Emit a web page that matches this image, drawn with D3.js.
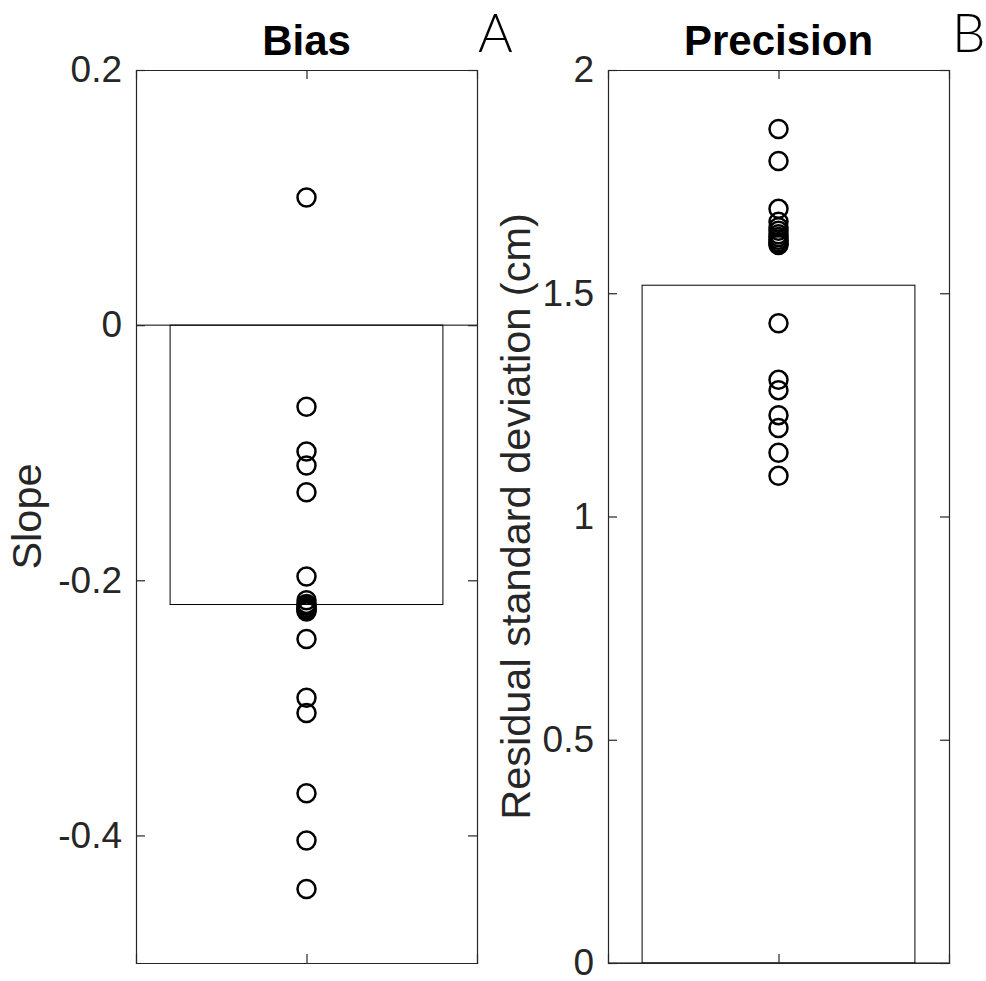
<!DOCTYPE html>
<html>
<head>
<meta charset="utf-8">
<script src="https://cdn.jsdelivr.net/npm/d3@7"></script>
<style>
  html, body { margin: 0; padding: 0; background: #fff; }
  svg { display: block; }
  text { font-family: "Liberation Sans", Arial, Helvetica, sans-serif; }
</style>
</head>
<body>
<svg id="chart" width="986" height="981"></svg>
<script>
// Panel A: regression slope per subject (bias)
const biasMean = -0.219;
const biasSlopes = [0.10, -0.064, -0.099, -0.110, -0.131, -0.197,
  -0.2156, -0.2185, -0.2200, -0.2215, -0.2225, -0.2235, -0.2245,
  -0.246, -0.292, -0.304, -0.367, -0.404, -0.442];
const biasTicks = [-0.4, -0.2, 0, 0.2];
const biasDomain = [-0.5, 0.2];

// Panel B: residual standard deviation per subject (precision, cm)
const precisionMean = 1.518;
const precisionSD = [1.868, 1.796, 1.689,
  1.660, 1.648, 1.640, 1.632, 1.626, 1.620, 1.615, 1.611, 1.608,
  1.433, 1.306, 1.283, 1.227, 1.198, 1.143, 1.091];
const precisionTicks = [0, 0.5, 1, 1.5, 2];
const precisionDomain = [0, 2];

const panels = [
  { title: "Bias", letter: "A", ylabel: "Slope", mean: biasMean, values: biasSlopes,
    ticks: biasTicks, domain: biasDomain, left: 136, right: 477, labelX: 41, letterX: 478 },
  { title: "Precision", letter: "B", ylabel: "Residual standard deviation (cm)",
    mean: precisionMean, values: precisionSD, ticks: precisionTicks, domain: precisionDomain,
    left: 608, right: 949, labelX: 530, letterX: 952 }
];

const plotTop = 70, plotBottom = 963;
const axisColor = "#262626";
const tickLen = 9;
const svg = d3.select("#chart");

panels.forEach(p => {
  const g = svg.append("g");
  const x = d3.scaleLinear().domain([0.5, 1.5]).range([p.left, p.right]);
  const y = d3.scaleLinear().domain(p.domain).range([plotBottom, plotTop]);
  const barW = 0.8;

  // bar from baseline 0 to the mean
  g.append("rect")
    .attr("x", x(1 - barW / 2))
    .attr("width", x(1 + barW / 2) - x(1 - barW / 2))
    .attr("y", y(Math.max(0, p.mean)))
    .attr("height", Math.abs(y(p.mean) - y(0)))
    .attr("fill", "#fff")
    .attr("stroke", "#000")
    .attr("stroke-width", 1);

  // baseline across the whole axis
  g.append("line")
    .attr("x1", p.left).attr("x2", p.right)
    .attr("y1", y(0)).attr("y2", y(0))
    .attr("stroke", "#000").attr("stroke-width", 1);

  // individual subjects
  g.append("g").selectAll("circle").data(p.values).join("circle")
    .attr("cx", x(1))
    .attr("cy", d => y(d))
    .attr("r", 9)
    .attr("fill", "none")
    .attr("stroke", "#000")
    .attr("stroke-width", 2.5);

  // axes (inward ticks, boxed)
  const fmt = d => String(d);
  const yl = g.append("g").attr("transform", `translate(${p.left},0)`)
    .call(d3.axisLeft(y).tickValues(p.ticks).tickSize(-tickLen).tickPadding(14).tickFormat(fmt));
  const yr = g.append("g").attr("transform", `translate(${p.right},0)`)
    .call(d3.axisRight(y).tickValues(p.ticks).tickSize(-tickLen).tickFormat(""));
  const xb = g.append("g").attr("transform", `translate(0,${plotBottom})`)
    .call(d3.axisBottom(x).tickValues([1]).tickSize(-tickLen).tickFormat(""));
  const xt = g.append("g").attr("transform", `translate(0,${plotTop})`)
    .call(d3.axisTop(x).tickValues([1]).tickSize(-tickLen).tickFormat(""));
  [yl, yr, xb, xt].forEach(a => {
    a.select(".domain").attr("stroke", axisColor).attr("stroke-width", 1.2);
    a.selectAll(".tick line").attr("stroke", axisColor).attr("stroke-width", 1.2);
  });
  yl.selectAll(".tick text")
    .attr("fill", axisColor)
    .style("font-size", "37px")
    .style("font-family", "'Liberation Sans', Arial, Helvetica, sans-serif");

  // title
  g.append("text")
    .attr("x", x(1)).attr("y", 55)
    .attr("text-anchor", "middle")
    .style("font-size", "42px").style("font-weight", "bold")
    .attr("fill", "#000")
    .text(p.title);

  // y label
  g.append("text")
    .attr("transform", `translate(${p.labelX},${(plotTop + plotBottom) / 2}) rotate(-90)`)
    .attr("text-anchor", "middle")
    .style("font-size", "41.5px")
    .attr("fill", axisColor)
    .text(p.ylabel);

  // panel letter
  g.append("text")
    .attr("x", p.letterX).attr("y", 52)
    .style("font-family", "Lato, 'Open Sans', sans-serif")
    .style("font-weight", "300")
    .style("font-size", "53px")
    .attr("fill", "#000")
    .text(p.letter);
});
</script>
</body>
</html>
